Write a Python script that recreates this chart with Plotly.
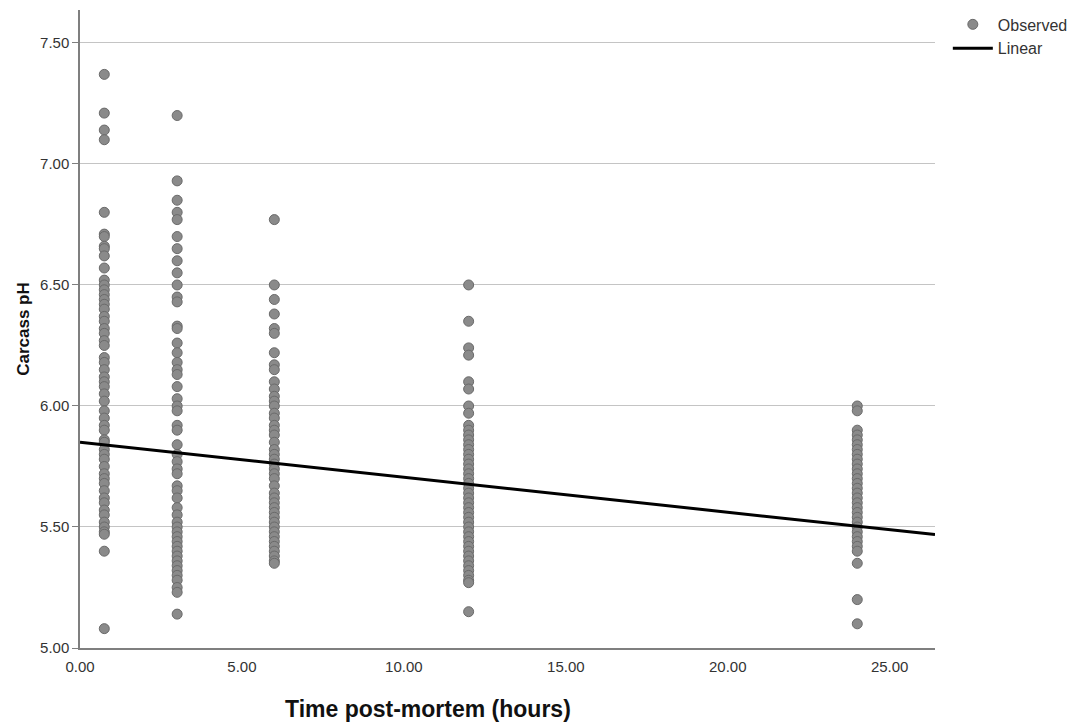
import plotly.graph_objects as go

# Data
time_h = [0.75, 3, 6, 12, 24]
ph_t075 = [7.37, 7.21, 7.14, 7.10, 6.80, 6.71, 6.70, 6.66, 6.65, 6.62, 6.57, 6.52, 6.50, 6.48,
           6.46, 6.44, 6.42, 6.40, 6.37, 6.35, 6.32, 6.30, 6.27, 6.25, 6.20, 6.18, 6.15, 6.12,
           6.10, 6.08, 6.05, 6.02, 5.98, 5.95, 5.92, 5.90, 5.86, 5.85, 5.82, 5.80, 5.78, 5.75,
           5.72, 5.70, 5.68, 5.65, 5.62, 5.60, 5.57, 5.55, 5.52, 5.50, 5.48, 5.47, 5.40, 5.08]
ph_t3 = [7.20, 6.93, 6.85, 6.80, 6.77, 6.70, 6.65, 6.60, 6.55, 6.50, 6.45, 6.43, 6.33, 6.32,
         6.26, 6.22, 6.18, 6.15, 6.13, 6.08, 6.03, 6.00, 5.98, 5.92, 5.90, 5.84, 5.80, 5.77,
         5.74, 5.72, 5.67, 5.65, 5.62, 5.58, 5.55, 5.52, 5.50, 5.48, 5.46, 5.44, 5.42, 5.40,
         5.38, 5.36, 5.34, 5.32, 5.30, 5.28, 5.25, 5.23, 5.14]
ph_t6 = [6.77, 6.50, 6.44, 6.38, 6.32, 6.30, 6.22, 6.17, 6.15, 6.10, 6.07, 6.04, 6.02, 6.00,
         5.97, 5.95, 5.92, 5.90, 5.88, 5.85, 5.82, 5.80, 5.78, 5.76, 5.74, 5.72, 5.70, 5.67,
         5.64, 5.62, 5.60, 5.58, 5.56, 5.54, 5.52, 5.50, 5.48, 5.46, 5.44, 5.42, 5.40, 5.38,
         5.36, 5.35]
ph_t12 = [6.50, 6.35, 6.24, 6.21, 6.10, 6.07, 6.00, 5.97, 5.92, 5.90, 5.88, 5.86, 5.84, 5.82,
          5.80, 5.78, 5.76, 5.74, 5.72, 5.70, 5.68, 5.66, 5.64, 5.62, 5.60, 5.58, 5.56, 5.54,
          5.52, 5.50, 5.48, 5.46, 5.44, 5.42, 5.40, 5.38, 5.36, 5.34, 5.32, 5.30, 5.28, 5.27,
          5.15]
ph_t24 = [6.00, 5.98, 5.90, 5.88, 5.86, 5.84, 5.82, 5.80, 5.78, 5.76, 5.74, 5.72, 5.70, 5.68,
          5.66, 5.64, 5.62, 5.60, 5.58, 5.56, 5.54, 5.52, 5.50, 5.48, 5.46, 5.44, 5.42, 5.40,
          5.35, 5.20, 5.10]
groups = [ph_t075, ph_t3, ph_t6, ph_t12, ph_t24]

# Linear fit
fit_intercept = 5.85
fit_slope = -0.01445

x_range = [0, 26.4]
y_range = [5.0, 7.636]
x_ticks = [0, 5, 10, 15, 20, 25]
y_ticks = [5.0, 5.5, 6.0, 6.5, 7.0, 7.5]

obs_x, obs_y = [], []
for t, vals in zip(time_h, groups):
    obs_x += [t] * len(vals)
    obs_y += vals

fit_x = x_range
fit_y = [fit_intercept + fit_slope * x for x in fit_x]

fig = go.Figure()
fig.add_trace(go.Scatter(
    x=obs_x, y=obs_y, mode="markers", name="Observed",
    marker=dict(size=10, color="#8a8a8a", line=dict(color="#6a6a6a", width=1)),
))
fig.add_trace(go.Scatter(
    x=fit_x, y=fit_y, mode="lines", name="Linear",
    line=dict(color="#000000", width=3),
))

fig.update_layout(
    width=1079, height=722,
    margin=dict(l=80, r=144, t=10, b=74, autoexpand=False),
    paper_bgcolor="white", plot_bgcolor="white",
    font=dict(family="Liberation Sans, Arial, sans-serif", size=14, color="#333333"),
    showlegend=True,
    legend=dict(x=1.015, y=1.004, xanchor="left", yanchor="top",
                font=dict(size=16, color="#333333"), tracegroupgap=0,
                itemwidth=40, bgcolor="rgba(0,0,0,0)"),
    annotations=[dict(
        text="<b>Time post-mortem (hours)</b>", xref="paper", yref="paper",
        x=(428 - 80) / 855, y=0, xanchor="center", yanchor="top", yshift=-46,
        showarrow=False, font=dict(size=23, color="#111111"),
    )],
)
fig.update_xaxes(
    range=x_range, tickvals=x_ticks, ticktext=[f"{v:.2f}" for v in x_ticks],
    showgrid=False, zeroline=False, showline=True, linecolor="#7f7f7f", linewidth=1.5,
    ticks="outside", ticklen=4, tickcolor="rgba(0,0,0,0)",
    tickfont=dict(size=15, color="#333333"),
)
fig.update_yaxes(
    range=y_range, tickvals=y_ticks, ticktext=[f"{v:.2f}" for v in y_ticks],
    showgrid=True, gridcolor="#c4c4c4", gridwidth=1.3,
    zeroline=False, showline=True, linecolor="#7f7f7f", linewidth=1.5,
    ticks="outside", ticklen=6, tickcolor="#7f7f7f",
    title=dict(text="<b>Carcass pH</b>", font=dict(size=17, color="#111111"), standoff=6),
    tickfont=dict(size=15, color="#333333"),
)

fig.write_html("out.html")
